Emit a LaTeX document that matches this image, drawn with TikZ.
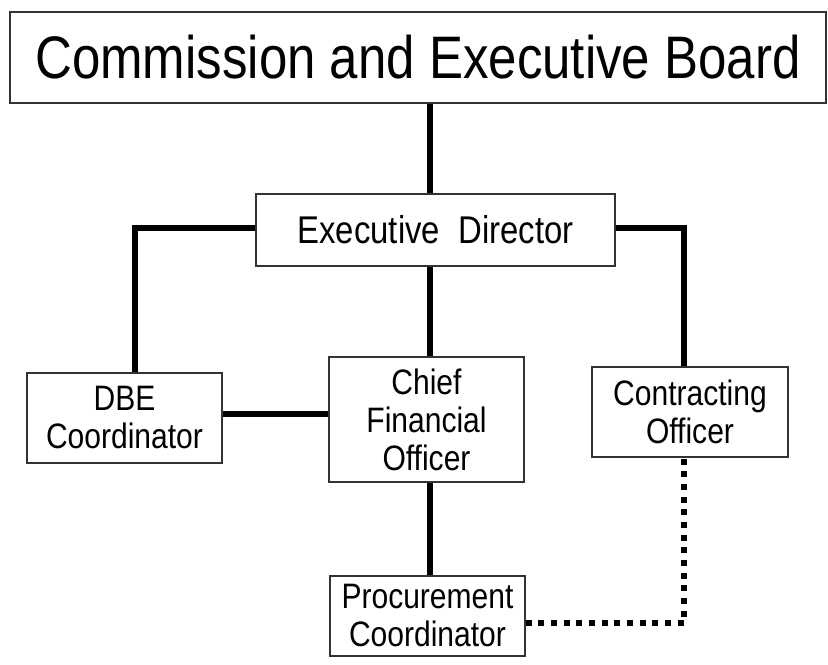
\documentclass[tikz,border=0pt]{standalone}
\usepackage{fontspec}
\setmainfont{Liberation Sans}[FakeStretch=0.85]
\begin{document}
\begin{tikzpicture}[x=0.75pt,y=-0.75pt,line join=miter]
			\def\xmid{430} \def\xleft{135} \def\xright{684}
			\def\ybranch{228} \def\ydot{623}
			\tikzset{box/.style={draw=black!80,line width=1.2pt,fill=white,align=center,inner sep=0pt},
				big/.style={font=\fontsize{45}{50}\selectfont},
				mid/.style={font=\fontsize{29}{32}\selectfont},
				small/.style={font=\fontsize{26.5}{28.5}\selectfont},
				conn/.style={line width=4pt},
				dotconn/.style={line width=4pt,dash pattern=on 4.5pt off 5pt}}
			\useasboundingbox (0,0) rectangle (828,664);
			
			%boxes
			\node[box,big,minimum width=612pt,minimum height=68pt] (board) at (418,57.5) {Commission and Executive Board};
			\node[box,mid,minimum width=269pt,minimum height=54pt] (exec) at (435.5,230) {Executive\ \ Director};
			\node[box,small,minimum width=146pt,minimum height=67.5pt] (dbe) at (124.5,418) {DBE\\Coordinator};
			\node[box,small,minimum width=146pt,minimum height=94pt] (cfo) at (426.5,419.5) {Chief\\Financial\\Officer};
			\node[box,small,minimum width=147pt,minimum height=67.5pt] (con) at (690,412) {Contracting\\Officer};
			\node[box,small,minimum width=146pt,minimum height=60pt] (proc) at (427.5,616) {Procurement\\Coordinator};
			
			%lines
			\draw[conn] (board.south -| \xmid,0)--(exec.north -| \xmid,0);
			\draw[conn] (exec.west |- 0,\ybranch)-|(dbe.north -| \xleft,0);
			\draw[conn] (exec.east |- 0,\ybranch)-|(con.north -| \xright,0);
			\draw[conn] (exec.south -| \xmid,0)--(cfo.north -| \xmid,0);
			\draw[conn] (dbe.east |- 0,414)--(cfo.west |- 0,414);
			\draw[conn] (cfo.south -| \xmid,0)--(proc.north -| \xmid,0);
			\draw[dotconn] (proc.east |- 0,\ydot)-|(con.south -| \xright,0);
		\end{tikzpicture}
\end{document}
